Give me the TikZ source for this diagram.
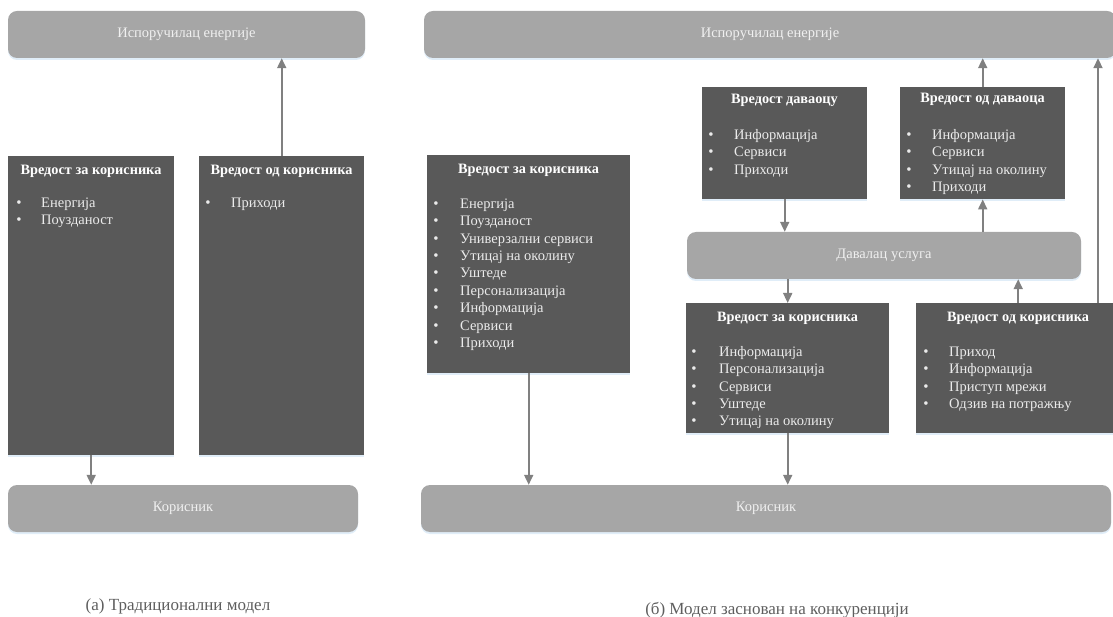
\documentclass[tikz,border=0pt]{standalone}
\usepackage{fontspec}
\setmainfont{Liberation Serif}
\usetikzlibrary{shadows,arrows.meta}

\definecolor{barfill}{HTML}{A6A6A6}
\definecolor{boxfill}{HTML}{595959}
\definecolor{arrowgray}{HTML}{808080}
\definecolor{glow}{HTML}{DDEBF7}
\definecolor{captiongray}{HTML}{5E5E5E}

\tikzset{
  softshadow/.style={drop shadow={shadow xshift=0pt, shadow yshift=-2pt, fill=glow, opacity=0.9}},
  bar/.style={fill=barfill, rounded corners=9pt, inner sep=0pt, softshadow,
    text=white!94!black, font=\fontsize{14.5}{16}\selectfont},
  valbox/.style={fill=boxfill, anchor=north west, inner sep=0pt, softshadow},
  boxtitle/.style={text=white, font=\bfseries\fontsize{14.3}{16}\selectfont, anchor=mid, inner sep=0pt},
  boxitem/.style={text=white!92!black, font=\fontsize{14.5}{16}\selectfont, anchor=mid west, inner sep=0pt},
  bulletmark/.style={text=white!92!black, font=\fontsize{15}{16}\selectfont, anchor=mid, inner sep=0pt},
  flow/.style={draw=arrowgray, line width=1.8pt, -{Triangle[length=10pt,width=9pt]}},
  caption/.style={text=captiongray, font=\fontsize{17}{19}\selectfont, anchor=base, inner sep=0pt}
}

% bullet list inside a value box: #1 name prefix, #2 bullet x, #3 text x, #4 first line y, #5 items
\newcommand\valuelist[5]{%
  \foreach \entry [count=\k] in {#5} {
    \node[bulletmark] (#1-b\k) at (#2, {#4+(\k-1)*17.4}) {•};
    \node[boxitem] (#1-i\k) at (#3, {#4+(\k-1)*17.4}) {\entry};
  }%
}

\begin{document}
\begin{tikzpicture}[x=1pt,y=-1pt]
\useasboundingbox (0,0) rectangle (1113,617);

% ---------- (a) traditional model ----------
\node[bar, minimum width=357pt, minimum height=47pt] (supA) at (186.5,34.5) {Испоручилац енергије};
\node[bar, minimum width=350pt, minimum height=47pt] (usrA) at (183,508.5) {Корисник};

\node[valbox, minimum width=166pt, minimum height=299pt] (forA) at (8,156) {};
\node[boxtitle] (forA-t) at (91,172) {Вредост за корисника};
\valuelist{forA}{19}{41}{205}{Енергија,Поузданост}

\node[valbox, minimum width=165pt, minimum height=299pt] (fromA) at (199,156) {};
\node[boxtitle] (fromA-t) at (281.5,172) {Вредост од корисника};
\valuelist{fromA}{208}{231}{205}{Приходи}

\draw[flow] (forA.south) -- (forA.south |- usrA.north);
\draw[flow] (fromA.north) -- (fromA.north |- supA.south);

% ---------- (b) competitive model ----------
\node[bar, minimum width=692pt, minimum height=47pt] (supB) at (770,34.5) {Испоручилац енергије};
\node[bar, minimum width=690pt, minimum height=47pt] (usrB) at (766,508.5) {Корисник};
\node[bar, minimum width=394pt, minimum height=47pt] (prov) at (884,255.5) {Давалац услуга};

\node[valbox, minimum width=203pt, minimum height=218pt] (forB) at (427,155) {};
\node[boxtitle] (forB-t) at (528.5,171) {Вредост за корисника};
\valuelist{forB}{436}{460}{206}{Енергија,Поузданост,Универзални сервиси,Утицај на околину,Уштеде,Персонализација,Информација,Сервиси,Приходи}

\node[valbox, minimum width=165pt, minimum height=112pt] (toProv) at (702,87) {};
\node[boxtitle] (toProv-t) at (784.5,101) {Вредост даваоцу};
\valuelist{toProv}{711}{734}{137}{Информација,Сервиси,Приходи}

\node[valbox, minimum width=165pt, minimum height=112pt] (fromProv) at (900,87) {};
\node[boxtitle] (fromProv-t) at (982.5,100) {Вредост од даваоца};
\valuelist{fromProv}{909}{932}{137}{Информација,Сервиси,Утицај на околину,Приходи}

\node[valbox, minimum width=203pt, minimum height=130pt] (forU) at (686,303) {};
\node[boxtitle] (forU-t) at (787.5,319) {Вредост за корисника};
\valuelist{forU}{694}{719}{354}{Информација,Персонализација,Сервиси,Уштеде,Утицај на околину}

\node[valbox, minimum width=204pt, minimum height=130pt] (fromU) at (916,303) {};
\node[boxtitle] (fromU-t) at (1018,319) {Вредост од корисника};
\valuelist{fromU}{926}{949}{354}{Приход,Информација,Приступ мрежи,Одзив на потражњу}

\coordinate (riseU) at (1098,303);

\draw[flow] (forB.south) -- (forB.south |- usrB.north);
\draw[flow] (toProv.south) -- (toProv.south |- prov.north);
\draw[flow] (forU.north |- prov.south) -- (forU.north);
\draw[flow] (forU.south) -- (forU.south |- usrB.north);
\draw[flow] (fromU.north) -- (fromU.north |- prov.south);
\draw[flow] (riseU) -- (riseU |- supB.south);
\draw[flow] (fromProv.south |- prov.north) -- (fromProv.south);
\draw[flow] (fromProv.north) -- (fromProv.north |- supB.south);

% ---------- captions ----------
\node[caption] (capA) at (178,610) {(a) Традиционални модел};
\node[caption] (capB) at (777,614) {(б) Модел заснован на конкуренцији};
\end{tikzpicture}
\end{document}
